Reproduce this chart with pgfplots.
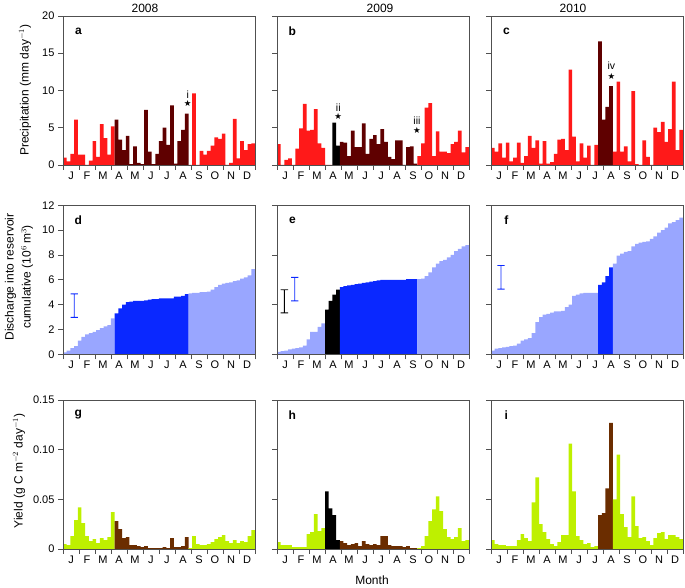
\documentclass[border=0pt]{standalone}
\usepackage{pgfplots}
\pgfplotsset{compat=1.18}
\usepackage{fontspec}
\setmainfont{Liberation Sans}
\newfontfamily\dejavu{DejaVu Sans}
\definecolor{pred}{RGB}{255,25,25}
\definecolor{pdark}{RGB}{95,0,0}
\definecolor{blight}{RGB}{153,166,255}
\definecolor{bdark}{RGB}{10,40,255}
\definecolor{glight}{RGB}{190,240,0}
\definecolor{gbrown}{RGB}{107,45,0}
\definecolor{axgray}{RGB}{80,80,80}
\newcommand{\seg}[2]{\addplot[const plot mark left, draw=none, fill=#1] coordinates {#2} \closedcycle;}
% error bar drawn as a filled I-shape outline (colour, outline coordinates)
\newcommand{\ebar}[2]{\addplot[fill=#1, draw=none, forget plot, mark=none] coordinates {#2};}
\pgfplotsset{
 panel/.style={width=192pt,height=149pt,scale only axis,anchor=south west,
  xmin=0,xmax=52,axis on top,
  axis line style={draw=axgray,line width=0.8pt},
  tick style={draw=axgray,line width=0.8pt},
  tick align=outside, xtick pos=left, ytick pos=left,
  major tick length=5pt,
  xtick={0,4.3333,8.6667,13,17.3333,21.6667,26,30.3333,34.6667,39,43.3333,47.6667,52},
  xticklabels={},
  extra x ticks={2.1667,6.5,10.8333,15.1667,19.5,23.8333,28.1667,32.5,36.8333,41.1667,45.5,49.8333},
  extra x tick labels={J,F,M,A,M,J,J,A,S,O,N,D},
  extra x tick style={major tick length=0pt,tick label style={yshift=-3pt}},
  tick label style={font=\fontsize{11}{12}\selectfont},
  /pgf/number format/assume math mode=true,
  scaled y ticks=false, clip=false},
 prec/.style={panel,ymin=0,ymax=20,ytick={0,5,10,15,20}},
 disc/.style={panel,ymin=0,ymax=12},
 yld/.style={panel,ymin=0,ymax=0.15,ytick={0,0.05,0.10,0.15}},
 noy/.style={yticklabels={}},
}
\newcommand{\plab}[1]{\node[font=\bfseries\fontsize{12}{13}\selectfont] at (axis description cs:0.08,0.9) {#1};}
\newcommand{\mystar}{{\dejavu\fontsize{8.5}{9}\selectfont ★}}
\newcommand{\anf}{\fontsize{10.5}{11}\selectfont}
\begin{document}
\begin{tikzpicture}
\useasboundingbox (0,0) rectangle (685pt,588pt);
% ---------- Row 1: precipitation
\begin{axis}[prec, at={(63pt,423pt)}]
\seg{pred}{(0,1.0)(1,0.5)(2,1.5)(3,6.1)(4,1.4)(5,1.4)(6,0)(7,0.6)(8,3.2)(9,1.1)(10,5.5)(11,3.6)(12,1.4)(13,5.2)(14,5.2)}
\seg{pdark}{(14,6.1)(15,3.4)(16,2.0)(17,3.9)(18,0.1)(19,2.5)(20,0.3)(21,0.1)(22,7.4)(23,1.8)(24,0.1)(25,1.5)(26,3.2)(27,5.0)(28,2.7)(29,8.0)(30,0.2)(31,3.2)(32,4.7)(33,6.9)(34,6.9)}
\seg{pred}{(34,0)(35,9.6)(36,0)(37,1.9)(38,1.4)(39,1.9)(40,2.6)(41,3.7)(42,3.5)(43,4.2)(44,0)(45,0.3)(46,6.2)(47,0.9)(48,3.2)(49,2.0)(50,2.8)(51,2.9)(52,2.9)}
\plab{a}
\node[font=\anf] at (axis cs:33.8,9.4) {i};
\node at (axis cs:33.8,8.2) {\mystar};
\end{axis}
\begin{axis}[prec, noy, at={(277pt,423pt)}]
\seg{pred}{(0,2.8)(1,0)(2,0.7)(3,0.9)(4,0)(5,2.2)(6,4.9)(7,8.2)(8,4.6)(9,4.7)(10,7.5)(11,2.9)(12,2.3)(13,0)(14,0)(15,0)}
\seg{black}{(15,5.7)(16,2.6)(17,2.6)}
\seg{pdark}{(17,3.1)(18,3.0)(19,1.2)(20,4.6)(21,2.4)(22,2.4)(23,5.6)(24,1.5)(25,3.5)(26,4.0)(27,2.8)(28,4.8)(29,3.1)(30,1.1)(31,0.8)(32,3.3)(33,3.3)(34,0)(35,2.4)(36,2.5)(37,0.2)(38,0.2)}
\seg{pred}{(38,1.2)(39,2.9)(40,7.7)(41,8.3)(42,1.2)(43,4.5)(44,1.8)(45,1.8)(46,1.6)(47,2.8)(48,3.1)(49,4.6)(50,1.7)(51,2.4)(52,2.4)}
\plab{b}
\node[font=\anf] at (axis cs:16.6,7.7) {ii};
\node at (axis cs:16.6,6.5) {\mystar};
\node[font=\anf] at (axis cs:37.9,5.9) {iii};
\node at (axis cs:37.9,4.6) {\mystar};
\end{axis}
\begin{axis}[prec, noy, at={(491pt,423pt)}]
\seg{pred}{(0,2.3)(1,1.8)(2,2.9)(3,1.0)(4,3.0)(5,0.5)(6,1.0)(7,3.0)(8,0.3)(9,1.2)(10,3.9)(11,2.3)(12,3.3)(13,0.2)(14,3.2)(15,0.2)(16,0.4)(17,1.5)(18,3.4)(19,3.5)(20,2.0)(21,12.8)(22,3.8)(23,0.5)(24,2.9)(25,1.0)(26,2.6)(27,0)(28,2.7)(29,2.7)}
\seg{pdark}{(29,16.6)(30,6.1)(31,7.8)(32,10.6)(33,10.6)}
\seg{pred}{(33,1.8)(34,11.2)(35,1.8)(36,2.5)(37,0.5)(38,9.9)(39,0.1)(40,0)(41,3.3)(42,1.1)(43,0)(44,5.0)(45,4.4)(46,5.8)(47,3.1)(48,4.8)(49,11.2)(50,2.0)(51,4.7)(52,4.7)}
\plab{c}
\node[font=\anf] at (axis cs:32.6,13.3) {iv};
\node at (axis cs:32.6,11.9) {\mystar};
\end{axis}
% ---------- Row 2: discharge
\begin{axis}[disc, ytick={0,2,...,12}, at={(63pt,233.7pt)}]
\seg{blight}{(0,0.15)(1,0.3)(2,0.5)(3,0.65)(4,1.1)(5,1.4)(6,1.6)(7,1.7)(8,1.8)(9,1.95)(10,2.1)(11,2.25)(12,2.35)(13,2.9)(14,2.9)}
\seg{bdark}{(14,3.3)(15,3.7)(16,4.0)(17,4.2)(18,4.25)(19,4.3)(20,4.3)(21,4.3)(22,4.35)(23,4.4)(24,4.45)(25,4.45)(26,4.5)(27,4.5)(28,4.5)(29,4.5)(30,4.65)(31,4.65)(32,4.7)(33,4.85)(34,4.85)}
\seg{blight}{(34,4.9)(35,4.95)(36,4.95)(37,5.0)(38,5.0)(39,5.05)(40,5.2)(41,5.4)(42,5.6)(43,5.7)(44,5.75)(45,5.8)(46,5.9)(47,5.95)(48,6.1)(49,6.2)(50,6.35)(51,6.85)(52,6.85)}
\ebar{bdark}{(2.06,2.934)(4.06,2.934)(4.06,3.006)(3.18,3.006)(3.18,4.834)(4.06,4.834)(4.06,4.906)(2.06,4.906)(2.06,4.834)(2.94,4.834)(2.94,3.006)(2.06,3.006)}
\plab{d}
\end{axis}
\begin{axis}[disc, noy, ytick={0,4,8,12}, at={(277pt,233.7pt)}]
\seg{blight}{(0,0.2)(1,0.25)(2,0.3)(3,0.4)(4,0.45)(5,0.5)(6,0.55)(7,0.7)(8,1.2)(9,1.8)(10,1.8)(11,2.2)(12,2.5)(13,2.5)}
\seg{black}{(13,3.6)(14,4.3)(15,4.8)(16,5.2)(17,5.2)}
\seg{bdark}{(17,5.4)(18,5.5)(19,5.55)(20,5.6)(21,5.65)(22,5.7)(23,5.75)(24,5.8)(25,5.85)(26,5.9)(27,5.95)(28,6.0)(29,6.0)(30,6.0)(31,6.0)(32,6.0)(33,6.0)(34,6.0)(35,6.05)(36,6.05)(37,6.05)(38,6.05)}
\seg{blight}{(38,6.05)(39,6.1)(40,6.3)(41,6.6)(42,7.0)(43,7.3)(44,7.5)(45,7.6)(46,7.8)(47,8.0)(48,8.3)(49,8.5)(50,8.7)(51,8.8)(52,8.8)}
\ebar{black}{(1.0,3.304)(3.0,3.304)(3.0,3.376)(2.12,3.376)(2.12,5.164)(3.0,5.164)(3.0,5.236)(1.0,5.236)(1.0,5.164)(1.88,5.164)(1.88,3.376)(1.0,3.376)}
\ebar{bdark}{(3.8,4.264)(5.8,4.264)(5.8,4.336)(4.92,4.336)(4.92,6.164)(5.8,6.164)(5.8,6.236)(3.8,6.236)(3.8,6.164)(4.68,6.164)(4.68,4.336)(3.8,4.336)}
\plab{e}
\end{axis}
\begin{axis}[disc, noy, ytick={0,4,8,12}, at={(491pt,233.7pt)}]
\seg{blight}{(0,0.3)(1,0.45)(2,0.5)(3,0.55)(4,0.6)(5,0.65)(6,0.7)(7,0.85)(8,1.1)(9,1.2)(10,1.3)(11,1.7)(12,2.6)(13,3.0)(14,3.2)(15,3.25)(16,3.35)(17,3.45)(18,3.45)(19,3.5)(20,3.8)(21,4.0)(22,4.7)(23,4.8)(24,4.9)(25,4.95)(26,4.95)(27,4.95)(28,4.95)(29,4.95)}
\seg{bdark}{(29,5.6)(30,5.8)(31,6.3)(32,7.0)(33,7.0)}
\seg{blight}{(33,7.3)(34,7.95)(35,8.1)(36,8.25)(37,8.3)(38,8.7)(39,8.9)(40,9.0)(41,9.05)(42,9.1)(43,9.3)(44,9.5)(45,9.8)(46,10.0)(47,10.2)(48,10.55)(49,10.65)(50,10.8)(51,11.0)(52,11.0)}
\ebar{bdark}{(1.7,5.214)(3.7,5.214)(3.7,5.286)(2.82,5.286)(2.82,7.114)(3.7,7.114)(3.7,7.186)(1.7,7.186)(1.7,7.114)(2.58,7.114)(2.58,5.286)(1.7,5.286)}
\plab{f}
\end{axis}
% ---------- Row 3: yield
\begin{axis}[yld, yticklabels={0,0.05,0.10,0.15}, at={(63pt,39pt)}]
\seg{glight}{(0,0.005)(1,0.004)(2,0.013)(3,0.029)(4,0.042)(5,0.026)(6,0.013)(7,0.008)(8,0.010)(9,0.006)(10,0.011)(11,0.009)(12,0.012)(13,0.037)(14,0.037)}
\seg{gbrown}{(14,0.028)(15,0.020)(16,0.011)(17,0.012)(18,0.004)(19,0.004)(20,0.003)(21,0.002)(22,0.003)(23,0.001)(24,0.001)(25,0.001)(26,0.001)(27,0.002)(28,0.001)(29,0.011)(30,0.002)(31,0.002)(32,0.003)(33,0.012)(34,0.012)}
\seg{glight}{(34,0.001)(35,0.013)(36,0.005)(37,0.004)(38,0.004)(39,0.005)(40,0.007)(41,0.010)(42,0.012)(43,0.014)(44,0.008)(45,0.006)(46,0.009)(47,0.006)(48,0.008)(49,0.007)(50,0.013)(51,0.019)(52,0.019)}
\plab{g}
\end{axis}
\begin{axis}[yld, noy, at={(277pt,39pt)}]
\seg{glight}{(0,0.007)(1,0.004)(2,0.004)(3,0.004)(4,0.002)(5,0.002)(6,0.002)(7,0.002)(8,0.015)(9,0.017)(10,0.035)(11,0.018)(12,0.021)(13,0.021)}
\seg{black}{(13,0.058)(14,0.041)(15,0.034)(16,0.009)(17,0.009)}
\seg{gbrown}{(17,0.008)(18,0.006)(19,0.004)(20,0.005)(21,0.006)(22,0.003)(23,0.008)(24,0.005)(25,0.004)(26,0.005)(27,0.004)(28,0.013)(29,0.013)(30,0.004)(31,0.003)(32,0.003)(33,0.003)(34,0.002)(35,0.003)(36,0.001)(37,0.001)(38,0.001)}
\seg{glight}{(38,0.001)(39,0.003)(40,0.013)(41,0.028)(42,0.040)(43,0.053)(44,0.038)(45,0.020)(46,0.012)(47,0.010)(48,0.012)(49,0.021)(50,0.008)(51,0.009)(52,0.009)}
\plab{h}
\end{axis}
\begin{axis}[yld, noy, at={(491pt,39pt)}]
\seg{glight}{(0,0.009)(1,0.005)(2,0.004)(3,0.004)(4,0.003)(5,0.003)(6,0.003)(7,0.009)(8,0.015)(9,0.011)(10,0.008)(11,0.047)(12,0.072)(13,0.025)(14,0.017)(15,0.010)(16,0.005)(17,0.003)(18,0.007)(19,0.014)(20,0.014)(21,0.106)(22,0.058)(23,0.013)(24,0.009)(25,0.005)(26,0.006)(27,0.002)(28,0.003)(29,0.003)}
\seg{gbrown}{(29,0.034)(30,0.036)(31,0.061)(32,0.127)(33,0.127)}
\seg{glight}{(33,0.050)(34,0.095)(35,0.035)(36,0.022)(37,0.012)(38,0.053)(39,0.023)(40,0.011)(41,0.012)(42,0.008)(43,0.004)(44,0.011)(45,0.016)(46,0.017)(47,0.010)(48,0.014)(49,0.014)(50,0.012)(51,0.010)(52,0.010)}
\plab{i}
\end{axis}
% ---------- titles and labels
\node[font=\fontsize{12}{13}\selectfont] at (145pt,580pt) {2008};
\node[font=\fontsize{12}{13}\selectfont] at (380pt,580pt) {2009};
\node[font=\fontsize{12}{13}\selectfont] at (573pt,580pt) {2010};
\node[rotate=90,font=\fontsize{12}{13}\selectfont] at (25pt,498pt) {Precipitation (mm day$^{-1}$)};
\node[rotate=90,align=center,font=\fontsize{12}{17}\selectfont] at (19pt,311pt) {Discharge into reservoir\\cumulative (10$^{6}$\,m$^{3}$)};
\node[rotate=90,font=\fontsize{12}{13}\selectfont] at (19pt,117pt) {Yield (g C m$^{-2}$ day$^{-1}$)};
\node[font=\fontsize{12}{13}\selectfont] at (372pt,8pt) {Month};
\end{tikzpicture}
\end{document}
